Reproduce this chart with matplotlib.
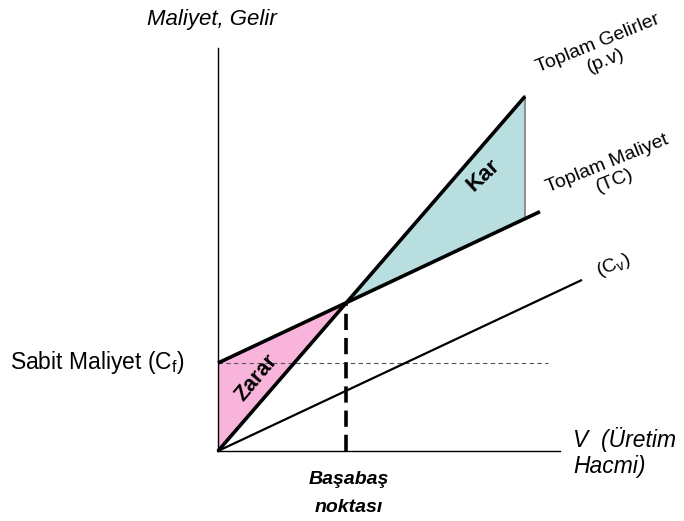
import matplotlib.pyplot as plt
import numpy as np

plt.rcParams['font.family'] = ['Liberation Sans', 'DejaVu Sans']

# break-even model (arbitrary units)
fixed_cost = 8.8       # Cf
price = 1.155          # p
unit_cost = 0.47       # v
rev_end = 30.7         # where revenue line ends
tc_end = 32.2          # where total cost line ends
cv_end = 36.3          # where variable cost line ends
fc_line_end = 33.0     # dotted Cf guide
x_max = 34.2
y_max = 40.3

pink = '#F8B4DA'
cyan = '#B8DEE0'

breakeven = fixed_cost / (price - unit_cost)

fig = plt.figure(figsize=(6.84, 5.21), dpi=100)
ax = fig.add_axes([218 / 684, 70 / 521, 342 / 684, 403 / 521])
ax.set_xlim(0, x_max)
ax.set_ylim(0, y_max)
ax.set_xticks([])
ax.set_yticks([])
for s in ['top', 'right']:
    ax.spines[s].set_visible(False)
ax.spines['left'].set_linewidth(1.0)
ax.spines['bottom'].set_linewidth(1.0)

# loss area (Zarar)
xl = np.array([0, breakeven])
ax.fill_between(xl, price * xl, fixed_cost + unit_cost * xl, color=pink, lw=0)
ax.plot([0, 0], [0, fixed_cost], color='#808080', lw=1.5, zorder=2)

# profit area (Kar)
xp = np.array([breakeven, rev_end])
ax.fill_between(xp, fixed_cost + unit_cost * xp, price * xp, color=cyan, lw=0)
ax.plot([rev_end, rev_end], [fixed_cost + unit_cost * rev_end, price * rev_end],
        color='#808080', lw=1.2, zorder=2)

# fixed cost guide
ax.plot([0, fc_line_end], [fixed_cost, fixed_cost], color='#555555', lw=0.8,
        ls=(0, (4, 3)), zorder=1)

# variable cost, total cost, revenue
ax.plot([0, cv_end], [0, unit_cost * cv_end], color='black', lw=1.6, zorder=3,
        clip_on=False)
ax.plot([0, tc_end], [fixed_cost, fixed_cost + unit_cost * tc_end], color='black',
        lw=2.6, zorder=3, solid_capstyle='butt', clip_on=False)
ax.plot([0, rev_end], [0, price * rev_end], color='black', lw=2.6, zorder=3,
        solid_capstyle='butt', clip_on=False)

# break-even vertical
ax.plot([breakeven, breakeven], [0, price * breakeven], color='black', lw=2.6,
        ls=(0, (4.5, 2.2)), zorder=3)

# labels
fig.text(212 / 684, 1 - 20 / 521, 'Maliyet, Gelir', style='italic', fontsize=16,
         ha='center', va='center')
fig.text(10 / 684, 1 - 363 / 521, r'Sabit Maliyet (C$_\mathregular{f}$)', fontsize=16.5,
         ha='left', va='center')
fig.text(573 / 684, 1 - 440 / 521, 'V  (Üretim', style='italic', fontsize=16.5,
         ha='left', va='center')
fig.text(573 / 684, 1 - 466 / 521, 'Hacmi)', style='italic', fontsize=16.5,
         ha='left', va='center')
fig.text(349 / 684, 1 - 480 / 521, 'Başabaş', style='italic', weight='bold',
         fontsize=14, ha='center', va='center')
fig.text(349 / 684, 1 - 507 / 521, 'noktası', style='italic', weight='bold',
         fontsize=14, ha='center', va='center')
fig.text(256 / 684, 1 - 378 / 521, 'Zarar', weight='bold', fontsize=15.5, rotation=50,
         ha='center', va='center', rotation_mode='anchor')
fig.text(483 / 684, 1 - 175 / 521, 'Kar', weight='bold', fontsize=16, rotation=43,
         ha='center', va='center', rotation_mode='anchor')
fig.text(602 / 684, 1 - 52 / 521, 'Toplam Gelirler\n(p.v)', fontsize=14, rotation=22,
         ha='center', va='center', rotation_mode='anchor', linespacing=1.15)
fig.text(611 / 684, 1 - 172 / 521, 'Toplam Maliyet\n(TC)', fontsize=14, rotation=22,
         ha='center', va='center', rotation_mode='anchor', linespacing=1.15)
fig.text(613 / 684, 1 - 266 / 521, r'(C$_\mathregular{v}$)', fontsize=14, rotation=22,
         ha='center', va='center', rotation_mode='anchor')

fig.savefig('out.png', dpi=100)
